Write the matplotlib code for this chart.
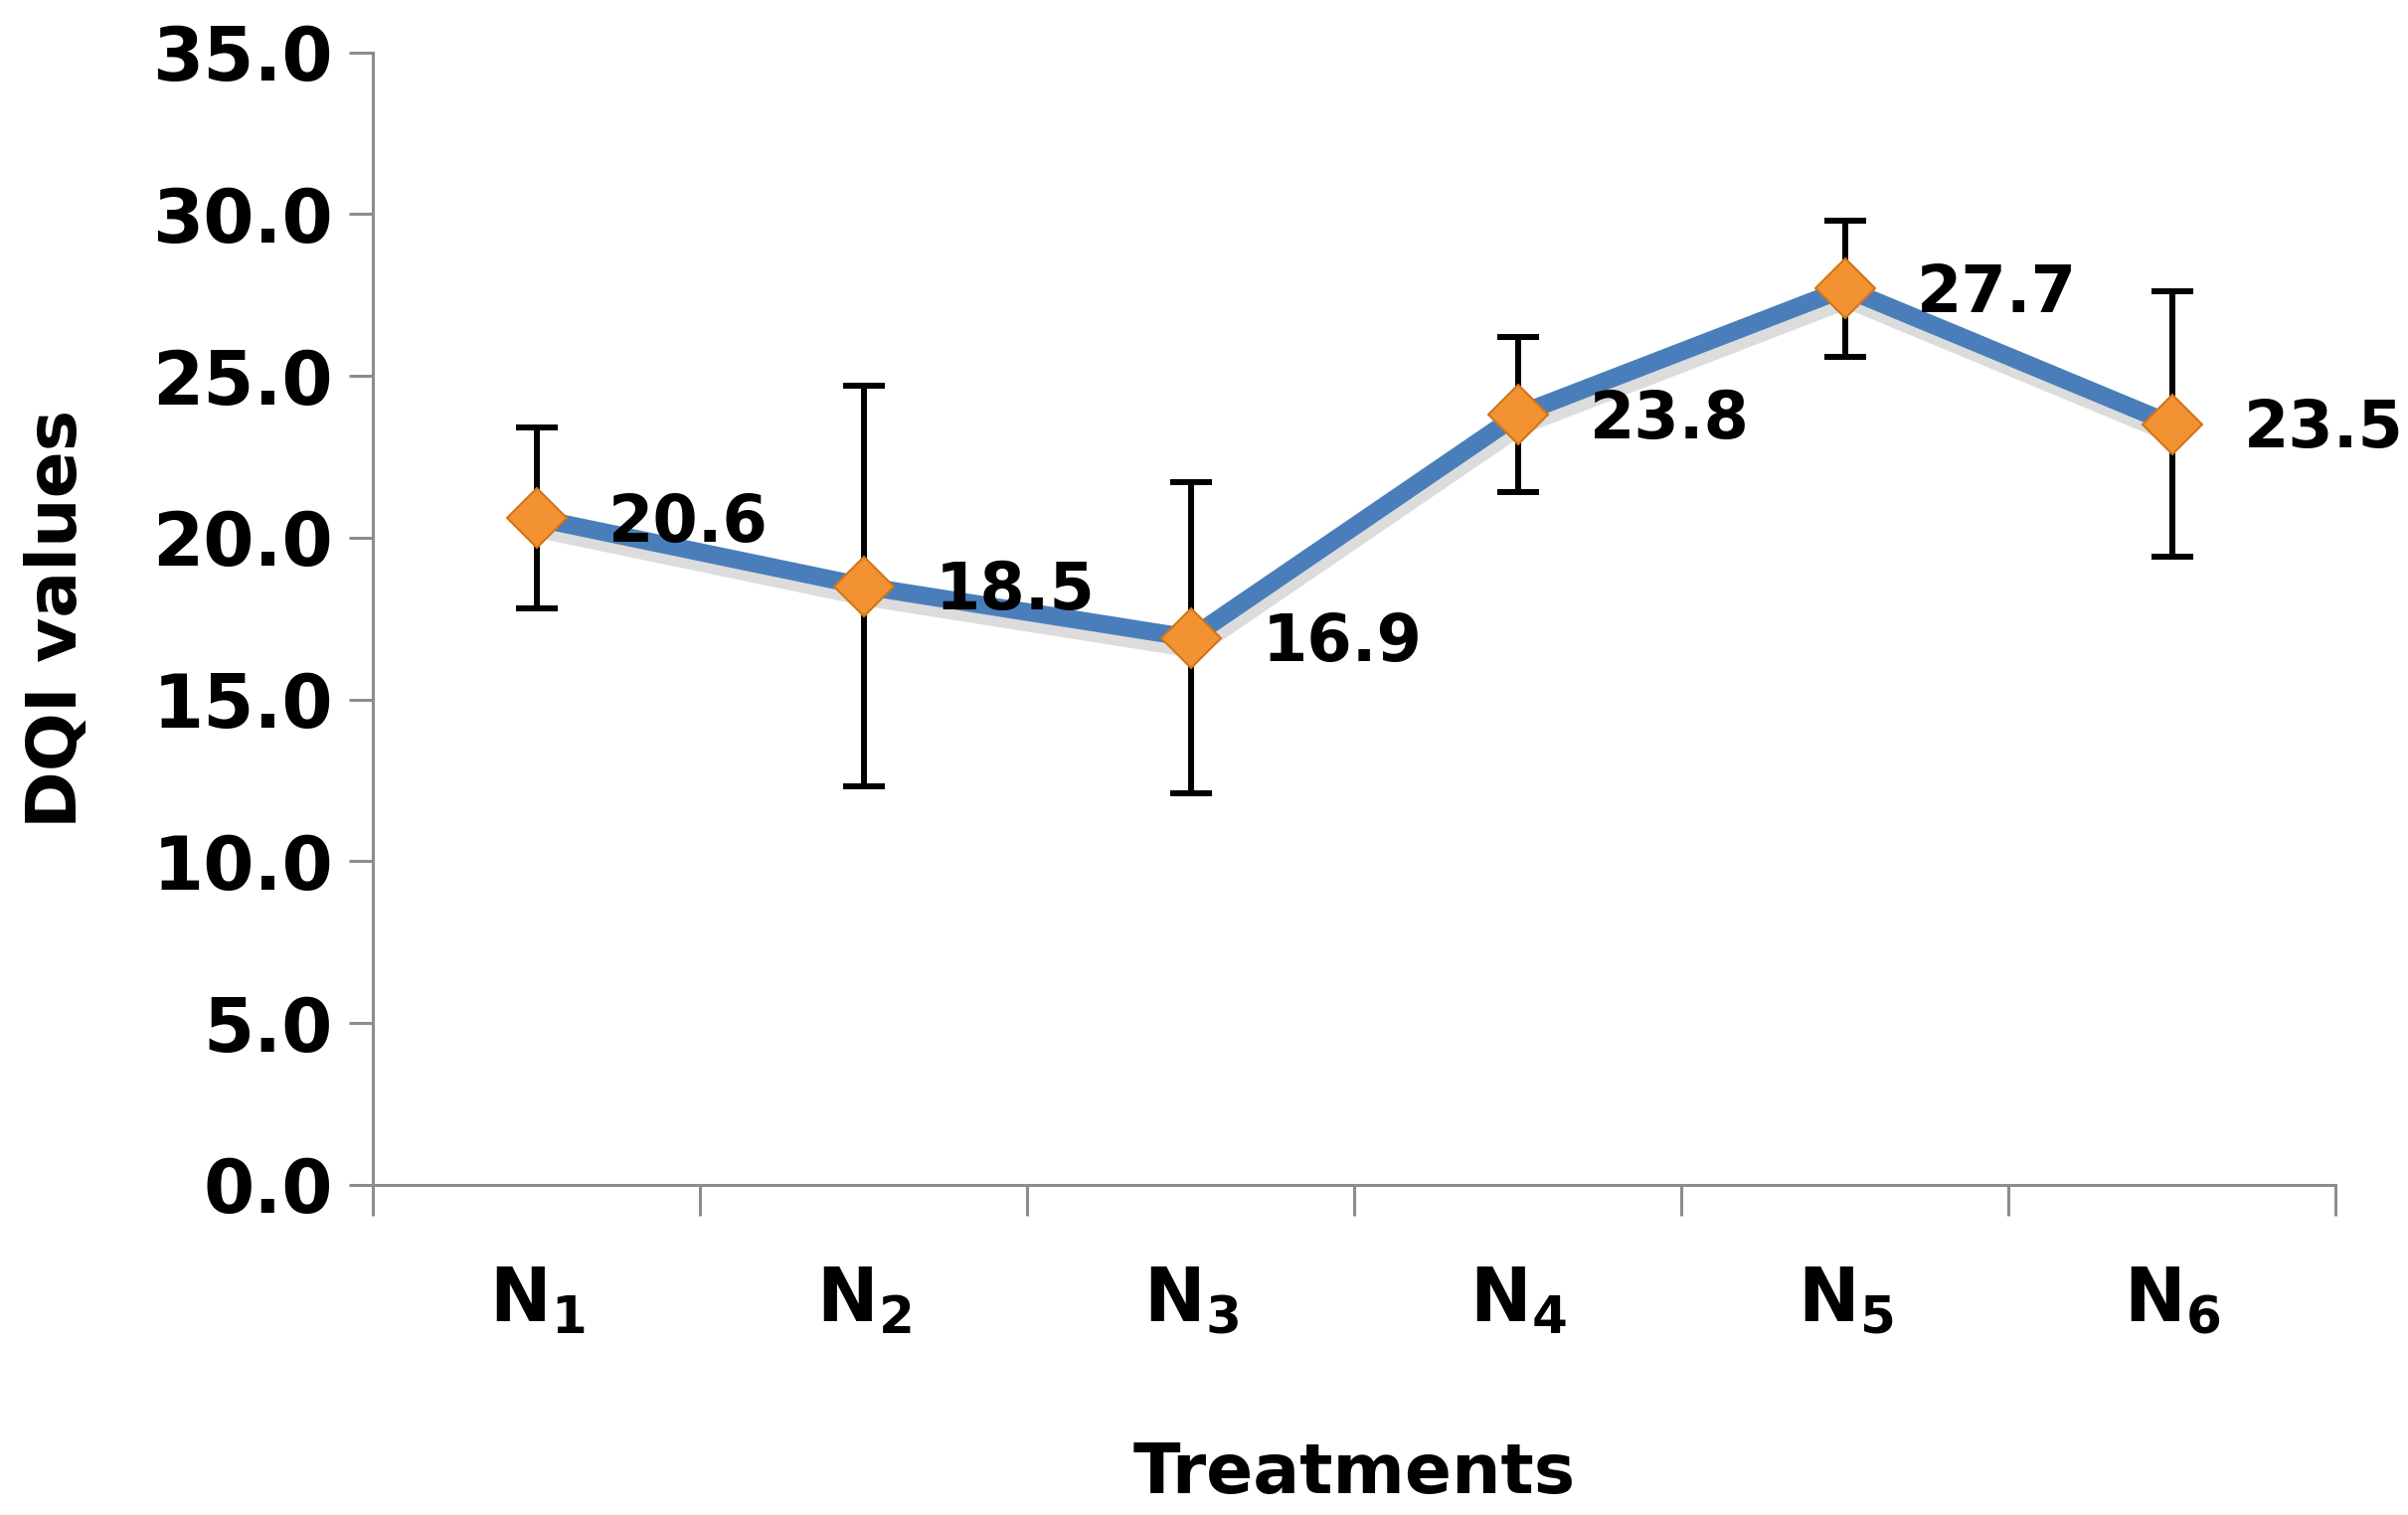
import matplotlib
matplotlib.use("Agg")
import matplotlib.pyplot as plt
import matplotlib.patheffects as pe
import numpy as np

# data
treatments = ["N1", "N2", "N3", "N4", "N5", "N6"]
tick_labels = [r"$\mathbf{N_1}$", r"$\mathbf{N_2}$", r"$\mathbf{N_3}$",
               r"$\mathbf{N_4}$", r"$\mathbf{N_5}$", r"$\mathbf{N_6}$"]
dqi = [20.6, 18.5, 16.9, 23.8, 27.7, 23.5]
err = [2.8, 6.2, 4.8, 2.4, 2.1, 4.1]

plt.rcParams['font.family'] = ['DejaVu Sans']
plt.rcParams['font.weight'] = 'bold'
plt.rcParams['mathtext.fontset'] = 'custom'
plt.rcParams['mathtext.rm'] = 'DejaVu Sans:bold'
plt.rcParams['mathtext.bf'] = 'DejaVu Sans:bold'

fig = plt.figure(figsize=(24.22, 15.24), dpi=100)
ax = fig.add_axes([0.155, 0.218, 0.815, 0.7475])

x = np.arange(len(treatments))

# blue line with soft shadow
ax.plot(x, dqi, color='#4A7EBB', linewidth=13, zorder=2, solid_joinstyle='miter',
        path_effects=[pe.SimpleLineShadow(offset=(2, -8), shadow_color='#777777', alpha=0.25),
                      pe.Normal()])
ax.errorbar(x, dqi, yerr=err, fmt='none', ecolor='black', elinewidth=4.3,
            capsize=15, capthick=4.3, zorder=3)
ax.plot(x, dqi, linestyle='none', marker='D', markersize=31,
        markerfacecolor='#F39233', markeredgecolor='#D27418', markeredgewidth=1.5, zorder=4)

for xi, v in zip(x, dqi):
    ax.annotate(f"{v:.1f}", (xi, v), xytext=(52, -4), textcoords='offset points',
                ha='left', va='center', fontsize=47, fontweight='bold', annotation_clip=False)

ax.set_xlim(-0.5, 5.5)
ax.set_ylim(0, 35)
ax.set_yticks(np.arange(0, 35.1, 5))
ax.set_yticklabels([f"{t:.1f}" for t in np.arange(0, 35.1, 5)])
ax.set_xticks(x)
ax.set_xticklabels(tick_labels)
ax.set_xticks(np.arange(-0.5, 5.6, 1), minor=True)

for s in ['top', 'right']:
    ax.spines[s].set_visible(False)
for s in ['left', 'bottom']:
    ax.spines[s].set_color('#8C8C8C')
    ax.spines[s].set_linewidth(2.2)

ax.tick_params(axis='y', direction='out', length=17, width=2.2, color='#8C8C8C',
               labelsize=53, pad=12)
ax.tick_params(axis='x', which='major', length=0, labelsize=53, pad=58)
ax.tick_params(axis='x', which='minor', direction='out', length=22, width=2.2, color='#8C8C8C')

ax.set_xlabel("Treatments", fontsize=50, fontweight='bold', labelpad=75)
ax.set_ylabel("DQI values", fontsize=50, fontweight='bold', labelpad=45)

fig.savefig("out.png", dpi=100, facecolor='white')
